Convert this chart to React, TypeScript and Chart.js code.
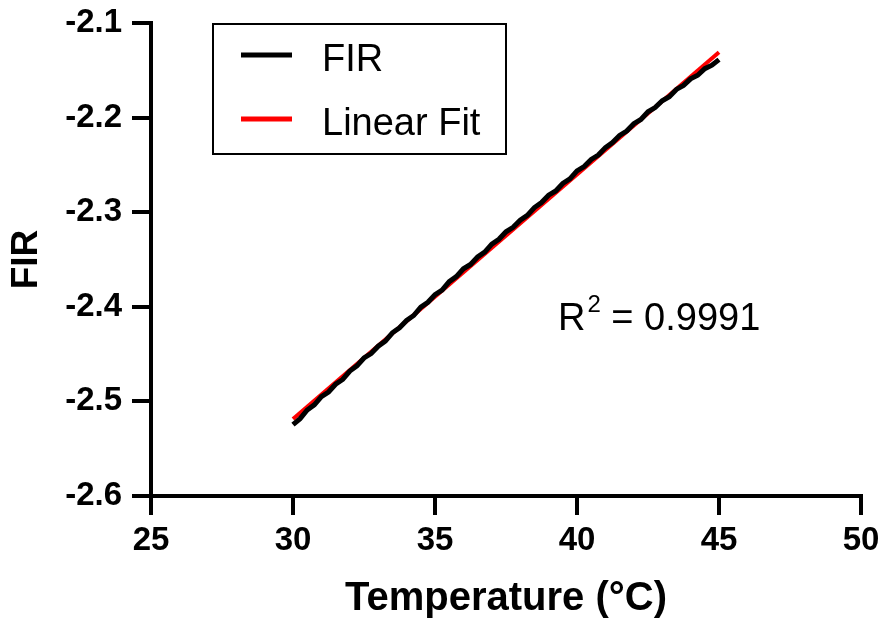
import React, { useEffect, useRef } from "react";
import { Chart, registerables } from "chart.js";

Chart.register(...registerables);

const FONT = "'Liberation Sans', Arial, Helvetica, sans-serif";

// Measured FIR vs temperature
const firTemps = [
  30.0, 30.25, 30.5, 30.75, 31.0, 31.25, 31.5, 31.75, 32.0, 32.25, 32.5, 32.75,
  33.0, 33.25, 33.5, 33.75, 34.0, 34.25, 34.5, 34.75, 35.0, 35.25, 35.5, 35.75,
  36.0, 36.25, 36.5, 36.75, 37.0, 37.25, 37.5, 37.75, 38.0, 38.25, 38.5, 38.75,
  39.0, 39.25, 39.5, 39.75, 40.0, 40.25, 40.5, 40.75, 41.0, 41.25, 41.5, 41.75,
  42.0, 42.25, 42.5, 42.75, 43.0, 43.25, 43.5, 43.75, 44.0, 44.25, 44.5, 44.75,
  45.0,
];
const firValues = [
  -2.5245, -2.5182, -2.5091, -2.5036, -2.495, -2.4901, -2.4819, -2.4768,
  -2.4679, -2.4624, -2.4541, -2.4494, -2.4416, -2.4362, -2.4275, -2.4222,
  -2.4144, -2.4092, -2.4003, -2.3952, -2.3871, -2.3823, -2.3734, -2.3681,
  -2.3598, -2.3553, -2.3473, -2.3422, -2.3338, -2.3286, -2.3207, -2.316,
  -2.3084, -2.3034, -2.2951, -2.2898, -2.282, -2.2775, -2.2696, -2.2648,
  -2.2564, -2.2517, -2.2442, -2.2396, -2.2317, -2.2264, -2.2188, -2.2142,
  -2.2064, -2.202, -2.1939, -2.1894, -2.1822, -2.1779, -2.1702, -2.166,
  -2.159, -2.1552, -2.1483, -2.1446, -2.1387,
];

// Linear fit end points
const fitTemps = [30, 45];
const fitValues = [-2.5185, -2.131];

const xTicks = [25, 30, 35, 40, 45, 50];
const yTicks = [-2.6, -2.5, -2.4, -2.3, -2.2, -2.1];

const seriesLabels = ["FIR", "Linear Fit"];
const seriesColors = ["#000000", "#ff0000"];
const xTitle = "Temperature (°C)";
const yTitle = "FIR";
const rSquared = "0.9991";
const r2Position = { x: 39.33, y: -2.4245 };

// Boxed legend drawn inside the plot area
const boxLegend = {
  id: "boxLegend",
  afterDatasetsDraw(chart: any) {
    const { ctx, chartArea } = chart;
    const x0 = chartArea.left + 62;
    const y0 = chartArea.top + 1;
    const w = 293;
    const h = 130;
    ctx.save();
    ctx.fillStyle = "#ffffff";
    ctx.fillRect(x0, y0, w, h);
    ctx.lineWidth = 2;
    ctx.strokeStyle = "#000000";
    ctx.strokeRect(x0, y0, w, h);
    chart.data.datasets.forEach((ds: any, i: number) => {
      const ly = y0 + 31 + i * 64;
      ctx.strokeStyle = ds.borderColor;
      ctx.lineWidth = 5;
      ctx.beginPath();
      ctx.moveTo(x0 + 28, ly);
      ctx.lineTo(x0 + 79, ly);
      ctx.stroke();
      ctx.fillStyle = "#000000";
      ctx.font = `38px ${FONT}`;
      ctx.textBaseline = "alphabetic";
      ctx.textAlign = "left";
      ctx.fillText(ds.label, x0 + 109, ly + 15.5);
    });
    ctx.restore();
  },
};

// R² annotation placed in data coordinates
const r2Label = {
  id: "r2Label",
  afterDatasetsDraw(chart: any) {
    const { ctx, scales } = chart;
    const x = scales.x.getPixelForValue(r2Position.x);
    const y = scales.y.getPixelForValue(r2Position.y);
    ctx.save();
    ctx.fillStyle = "#000000";
    ctx.textBaseline = "alphabetic";
    ctx.textAlign = "left";
    ctx.font = `38px ${FONT}`;
    ctx.fillText("R", x, y);
    const wR = ctx.measureText("R").width;
    ctx.font = `24px ${FONT}`;
    ctx.fillText("2", x + wR + 2, y - 18);
    const w2 = ctx.measureText("2").width;
    ctx.font = `38px ${FONT}`;
    ctx.fillText(" = " + rSquared, x + wR + 2 + w2, y);
    ctx.restore();
  },
};

export default function App() {
  const canvasRef = useRef<HTMLCanvasElement | null>(null);

  useEffect(() => {
    const canvas = canvasRef.current;
    if (!canvas) return;

    const chart = new Chart(canvas, {
      type: "line",
      data: {
        datasets: [
          {
            label: seriesLabels[0],
            data: firTemps.map((t, i) => ({ x: t, y: firValues[i] })),
            borderColor: seriesColors[0],
            backgroundColor: seriesColors[0],
            borderWidth: 5,
            pointRadius: 0,
            tension: 0,
          },
          {
            label: seriesLabels[1],
            data: fitTemps.map((t, i) => ({ x: t, y: fitValues[i] })),
            borderColor: seriesColors[1],
            backgroundColor: seriesColors[1],
            borderWidth: 4,
            pointRadius: 0,
            tension: 0,
          },
        ],
      },
      options: {
        responsive: false,
        animation: false,
        devicePixelRatio: 1,
        layout: { padding: { top: 23, right: 22, left: 0, bottom: 0 } },
        plugins: {
          legend: { display: false },
          tooltip: { enabled: false },
        },
        scales: {
          x: {
            type: "linear",
            min: 25,
            max: 50,
            afterBuildTicks: (s: any) => {
              s.ticks = xTicks.map((v) => ({ value: v }));
            },
            afterFit: (s: any) => {
              s.height = 130;
              s.paddingLeft = 0;
              s.paddingRight = 0;
            },
            grid: {
              drawOnChartArea: false,
              drawTicks: true,
              tickLength: 19,
              tickWidth: 4,
              tickColor: "#000000",
              color: "#000000",
              lineWidth: 4,
            },
            border: { display: true, width: 4, color: "#000000" },
            ticks: {
              color: "#000000",
              padding: 6,
              maxRotation: 0,
              font: { family: FONT, size: 33, weight: "bold" },
              callback: (v: any) => String(v),
            },
            title: {
              display: true,
              text: xTitle,
              color: "#000000",
              font: { family: FONT, size: 40, weight: "bold" },
              padding: { top: 0, bottom: 3 },
            },
          },
          y: {
            type: "linear",
            min: -2.6,
            max: -2.1,
            afterBuildTicks: (s: any) => {
              s.ticks = yTicks.map((v) => ({ value: v }));
            },
            afterFit: (s: any) => {
              s.width = 151;
              s.paddingTop = 0;
              s.paddingBottom = 0;
            },
            grid: {
              drawOnChartArea: false,
              drawTicks: true,
              tickLength: 19,
              tickWidth: 4,
              tickColor: "#000000",
              color: "#000000",
              lineWidth: 4,
            },
            border: { display: true, width: 4, color: "#000000" },
            ticks: {
              color: "#000000",
              padding: 10,
              font: { family: FONT, size: 33, weight: "bold" },
              callback: (v: any) => Number(v).toFixed(1),
            },
            title: {
              display: true,
              text: yTitle,
              color: "#000000",
              font: { family: FONT, size: 37, weight: "bold" },
              padding: { top: 5, bottom: 0 },
            },
          },
        },
      },
      plugins: [boxLegend, r2Label],
    });

    return () => chart.destroy();
  }, []);

  return (
    <div
      style={{
        position: "absolute",
        left: 0,
        top: 0,
        width: 883,
        height: 626,
        background: "#ffffff",
      }}
    >
      <canvas ref={canvasRef} width={883} height={626} />
    </div>
  );
}
